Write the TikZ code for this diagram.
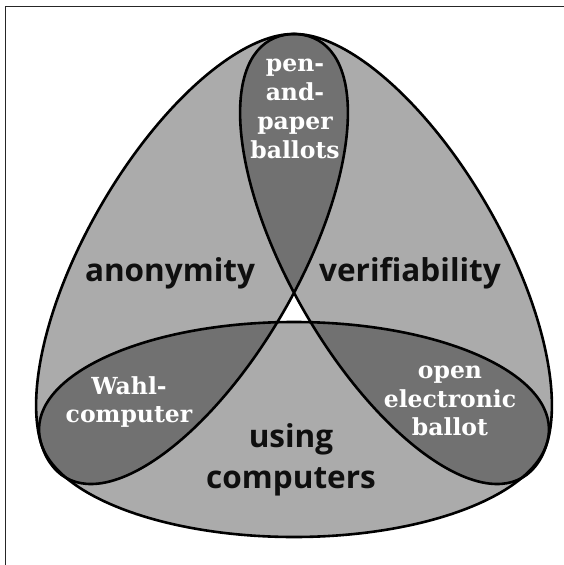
\documentclass[tikz,border=0pt]{standalone}
\usepackage{fontspec}
\newfontfamily\labelsans{Open Sans}
\newfontfamily\labelserif{DejaVu Serif}
\definecolor{lightfill}{RGB}{171,171,171}
\definecolor{darkfill}{RGB}{113,113,113}
\definecolor{inkblack}{RGB}{15,15,15}
% the three ovals of the diagram
\newcommand\ovalAnon{(cA) ellipse [x radius=252.5, y radius=105.6]}
\newcommand\ovalVerif{(cV) ellipse [x radius=252.5, y radius=105.6]}
\newcommand\ovalComp{(cC) ellipse [x radius=255, y radius=107.5]}
\tikzset{
  rotA/.style={rotate around={60:(cA)}},
  rotV/.style={rotate around={-60:(cV)}},
  single/.style={fill=lightfill},
  double/.style={fill=darkfill},
  outline/.style={draw=black, line width=2.6pt},
  framebar/.style={draw=black!85, line width=1pt},
  setname/.style={font=\labelsans\bfseries\fontsize{31.5}{41}\selectfont, text=inkblack, inner sep=0pt},
  overlapname/.style={font=\labelserif\bfseries\fontsize{23.5}{28.8}\selectfont, text=white, align=center, inner sep=0pt},
}
\begin{document}
\begin{tikzpicture}[x=1pt,y=-1pt]
\useasboundingbox (0,0) rectangle (564,565);
\fill[white] (0,0) rectangle (564,565);
\coordinate (cA) at (192,259);
\coordinate (cV) at (396,259);
\coordinate (cC) at (294,429.5);
% frame edges
\draw[framebar] (5,565) -- (5,6) -- (564,6);
% single sets
\fill[single, rotA] \ovalAnon;
\fill[single, rotV] \ovalVerif;
\fill[single] \ovalComp;
% pairwise overlaps
\begin{scope}
  \clip[rotA] \ovalAnon;
  \fill[double, rotV] \ovalVerif;
  \fill[double] \ovalComp;
\end{scope}
\begin{scope}
  \clip[rotV] \ovalVerif;
  \fill[double] \ovalComp;
\end{scope}
% triple overlap stays white
\begin{scope}
  \clip[rotA] \ovalAnon;
  \clip[rotV] \ovalVerif;
  \fill[white] \ovalComp;
\end{scope}
% outlines
\draw[outline, rotA] \ovalAnon;
\draw[outline, rotV] \ovalVerif;
\draw[outline] \ovalComp;
% labels
\node[setname, anchor=base] (anon) at (170,281) {anonymity};
\node[setname, anchor=base] (verif) at (410,281) {verifiability};
\node[setname, align=center] (comp) at (291,460) {using\\computers};
\node[overlapname] (pen) at (295,109) {pen-\\and-\\paper\\ballots};
\node[overlapname] (wahl) at (129,402) {Wahl-\\computer};
\node[overlapname] (open) at (450,401) {open\\electronic\\ballot};
\end{tikzpicture}
\end{document}
